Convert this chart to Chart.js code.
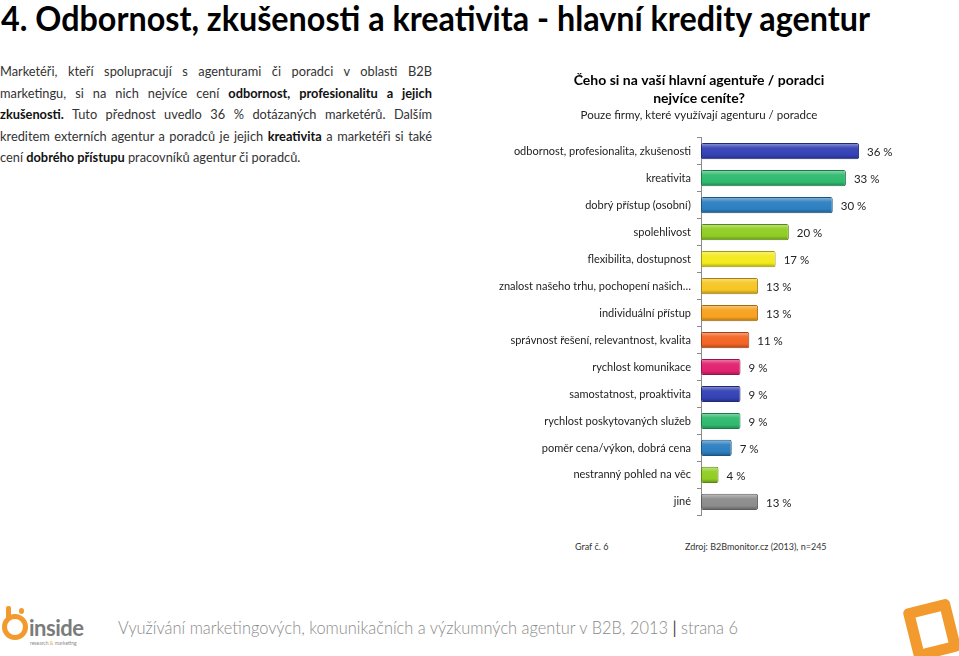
<!DOCTYPE html>
<html>
<head>
<meta charset="utf-8">
<script src="https://cdn.jsdelivr.net/npm/chart.js@4.4.1/dist/chart.umd.min.js"></script>
<style>
  html, body { margin:0; padding:0; background:#fff; }
  body { width:959px; height:656px; position:relative; overflow:hidden; font-family: Lato, "Open Sans", sans-serif; }
  .abs { position:absolute; }
  #title { left:1px; top:-3px; font-size:35px; font-weight:700; color:#000; line-height:40px; white-space:nowrap; transform-origin:0 50%; display:inline-block; }
  #para { left:0; top:61px; width:432px; font-size:12.8px; line-height:21.6px; color:#333; }
  #para div { white-space:nowrap; text-align:justify; text-align-last:justify; }
  #para div.last { text-align:left; text-align-last:left; }
  #para b { color:#111; }
  #chartWrap { left:495px; top:60px; }
  .src { font-size:9px; color:#333; top:541px; white-space:nowrap; }
  #footer { left:118px; top:617px; font-size:17px; color:#8a8a8a; white-space:nowrap; transform-origin:0 50%; display:inline-block; font-weight:300; }
  #footer .bar { color:#444; font-weight:400; }
  #logoRing { left:2px; top:614px; width:16px; height:16px; border:5px solid #f29a2e; border-radius:50%; }
  #logoRing2 { left:6px; top:606px; width:5px; height:14px; background:#f29a2e; border-radius:2px; }
  #logoDot { left:19px; top:608px; width:5px; height:6px; background:#f29a2e; border-radius:50%; }
  #logoText { left:29px; top:614px; font-size:22px; font-weight:700; color:#7b7b7b; letter-spacing:-0.5px; }
  #logoSub { left:30px; top:640px; font-size:5px; color:#888; white-space:nowrap; }
  #sq { left:908px; top:603px; width:26px; height:32px; border:11px solid #f29a2e; border-radius:5px; transform:rotate(-14deg); }
</style>
</head>
<body>
<div id="title" class="abs">4. Odbornost, zkušenosti a kreativita - hlavní kredity agentur</div>
<div id="para" class="abs">
  <div>Marketéři, kteří spolupracují s agenturami či poradci v oblasti B2B</div>
  <div>marketingu, si na nich nejvíce cení <b>odbornost, profesionalitu a jejich</b></div>
  <div><b>zkušenosti.</b> Tuto přednost uvedlo 36&nbsp;% dotázaných marketérů. Dalším</div>
  <div>kreditem externích agentur a poradců je jejich <b>kreativita</b> a marketéři si také</div>
  <div class="last">cení <b>dobrého přístupu</b> pracovníků agentur či poradců.</div>
</div>
<div id="chartWrap" class="abs"><canvas id="c" width="418" height="468"></canvas></div>
<div class="abs src" style="left:575px;">Graf č. 6</div>
<div class="abs src" style="left:685px;">Zdroj: B2Bmonitor.cz (2013), n=245</div>
<div id="logoRing" class="abs"></div>
<div id="logoRing2" class="abs"></div>
<div id="logoDot" class="abs"></div>
<div id="logoText" class="abs">inside</div>
<div id="logoSub" class="abs">research <span style="color:#f29a2e">&amp;</span> marketing</div>
<div id="footer" class="abs">Využívání marketingových, komunikačních a výzkumných agentur v B2B, 2013 <span class="bar">|</span> strana 6</div>
<div id="sq" class="abs"></div>

<script>
const categories = [
  'odbornost, profesionalita, zkušenosti',
  'kreativita',
  'dobrý přístup (osobní)',
  'spolehlivost',
  'flexibilita, dostupnost',
  'znalost našeho trhu, pochopení našich…',
  'individuální přístup',
  'správnost řešení, relevantnost, kvalita',
  'rychlost komunikace',
  'samostatnost, proaktivita',
  'rychlost poskytovaných služeb',
  'poměr cena/výkon, dobrá cena',
  'nestranný pohled na věc',
  'jiné'
];
const values = [36, 33, 30, 20, 17, 13, 13, 11, 9, 9, 9, 7, 4, 13];
const valueLabels = ['36 %','33 %','30 %','20 %','17 %','13 %','13 %','11 %','9 %','9 %','9 %','7 %','4 %','13 %'];
const barColors = ['#3341b4','#2fb96f','#2c7fc0','#8fcd22','#f3ea1c','#f6c625','#f7a11f','#f26424','#e2226f','#3341b4','#2fb96f','#2c7fc0','#8fcd22','#8c8c8c'];

function fitWidth(el, w) {
  const cw = el.getBoundingClientRect().width;
  el.style.transform = 'scaleX(' + (w / cw) + ')';
}
function shade(hex, f) {
  const n = parseInt(hex.slice(1), 16);
  let r = n >> 16, g = (n >> 8) & 255, b = n & 255;
  if (f >= 0) { r += (255 - r) * f; g += (255 - g) * f; b += (255 - b) * f; }
  else { r *= (1 + f); g *= (1 + f); b *= (1 + f); }
  return 'rgb(' + Math.round(r) + ',' + Math.round(g) + ',' + Math.round(b) + ')';
}

const valueLabelPlugin = {
  id: 'valueLabels',
  afterDatasetsDraw(chart) {
    const c = chart.ctx;
    const meta = chart.getDatasetMeta(0);
    c.save();
    c.font = '11.5px Lato';
    c.fillStyle = '#222';
    c.textBaseline = 'middle';
    c.textAlign = 'left';
    meta.data.forEach((el, i) => c.fillText(valueLabels[i], el.x + 8, el.y + 1));
    c.restore();
  }
};

function makeChart() {
  fitWidth(document.getElementById('title'), 869);
  fitWidth(document.getElementById('footer'), 620);
  const BAR_H = 16;
  new Chart(document.getElementById('c'), {
    type: 'bar',
    data: {
      labels: categories,
      datasets: [{
        data: values,
        backgroundColor: (ctx) => {
          const base = barColors[ctx.dataIndex];
          const ys = ctx.chart.scales && ctx.chart.scales.y;
          if (!ys || ctx.type !== 'data') return base;
          const yc = ys.getPixelForValue(ctx.dataIndex);
          if (!isFinite(yc)) return base;
          const g = ctx.chart.ctx.createLinearGradient(0, yc - BAR_H / 2, 0, yc + BAR_H / 2);
          g.addColorStop(0, shade(base, 0.45));
          g.addColorStop(0.3, shade(base, 0.05));
          g.addColorStop(0.75, base);
          g.addColorStop(1, shade(base, -0.3));
          return g;
        },
        borderColor: (ctx) => shade(barColors[ctx.dataIndex], -0.35),
        borderWidth: 1,
        borderRadius: 2,
        borderSkipped: false,
        categoryPercentage: 1,
        barPercentage: 0.6
      }]
    },
    options: {
      indexAxis: 'y',
      responsive: false,
      animation: false,
      devicePixelRatio: 1,
      layout: { padding: { top: 11, right: 10, bottom: 4, left: 0 } },
      plugins: {
        legend: { display: false },
        tooltip: { enabled: false },
        title: {
          display: true,
          text: ['Čeho si na vaší hlavní agentuře / poradci', 'nejvíce ceníte?'],
          font: { family: 'Lato', size: 14, weight: 'bold', lineHeight: 1.3 },
          color: '#000',
          padding: { top: 0, bottom: 0.5 }
        },
        subtitle: {
          display: true,
          text: 'Pouze firmy, které využívají agenturu / poradce',
          font: { family: 'Lato', size: 11.5, lineHeight: 1.2 },
          color: '#222',
          padding: { top: 0, bottom: 16 }
        }
      },
      scales: {
        x: { display: false, min: 0, max: 46 },
        y: {
          afterFit: (s) => { s.width = 206; },
          grid: { display: true, drawOnChartArea: false, drawTicks: true, tickLength: 4, color: '#8a8a8a' },
          border: { display: true, color: '#8a8a8a' },
          ticks: { padding: 6, autoSkip: false, color: '#222', font: { family: 'Lato', size: 11 } }
        }
      }
    },
    plugins: [valueLabelPlugin]
  });
}
Promise.all([
  document.fonts.load('11px Lato'),
  document.fonts.load('bold 14px Lato'),
  document.fonts.load('bold 35px Lato')
]).then(makeChart, makeChart);
</script>
</body>
</html>
